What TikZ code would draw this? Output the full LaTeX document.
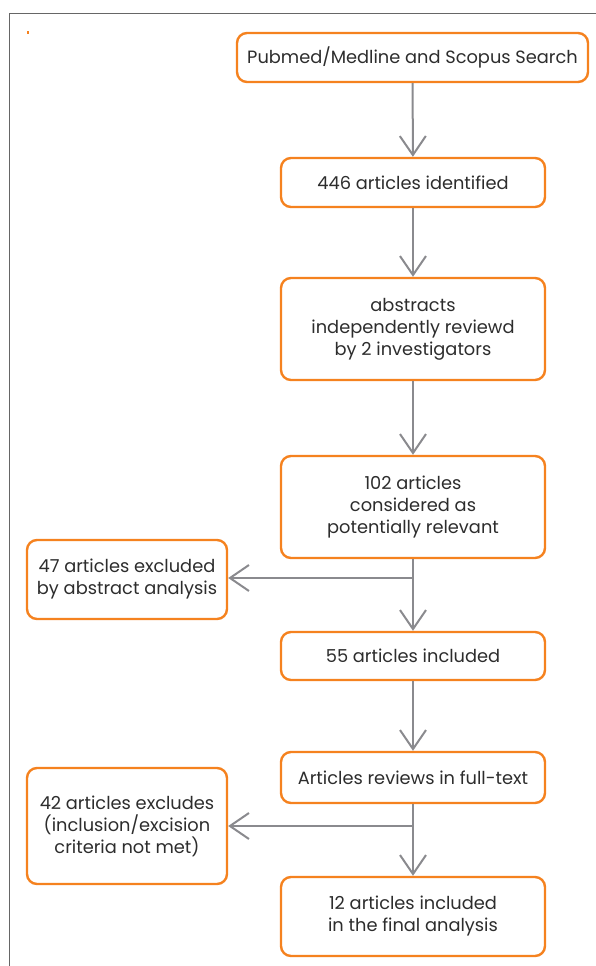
\documentclass[tikz,border=0pt]{standalone}
\usepackage{fontspec}
\setmainfont{Poppins}
\usetikzlibrary{arrows.meta}
\definecolor{orbox}{HTML}{F5821F}
\definecolor{grline}{HTML}{8A8A8E}
\definecolor{txt}{HTML}{2D2D2D}
\tikzset{
  box/.style={draw=orbox, line width=2.4pt, rounded corners=10pt, fill=white, text=txt,
    align=center, font=\fontsize{17.8}{22}\selectfont, inner sep=0pt},
  conn/.style={draw=grline, line width=2pt, -{Straight Barb[length=19pt,width=26pt,line width=2pt]}},
}
\begin{document}
\begin{tikzpicture}[x=1pt,y=-1pt]
\useasboundingbox (0,0) rectangle (595,966);
\draw[line width=1.3pt, draw=gray!80!black] (9.5,975) -- (9.5,13.5) -- (605,13.5);
\fill[orbox] (26.5,31) rectangle (28.5,34);
\node[box, minimum width=351pt, minimum height=49pt] (s) at (412.5,57.5) {Pubmed/Medline and Scopus Search};
\node[box, minimum width=264pt, minimum height=49pt] (a) at (413,182.5) {446 articles identified};
\node[box, minimum width=264pt, minimum height=102pt] (b) at (413,329) {abstracts\\independently reviewd\\by 2 investigators};
\node[box, minimum width=264pt, minimum height=102pt] (c) at (413,507) {102 articles\\considered as\\potentially relevant};
\node[box, minimum width=200pt, minimum height=79pt] (e1) at (127,579.5) {47 articles excluded\\by abstract analysis};
\node[box, minimum width=264pt, minimum height=48pt] (d) at (413,656) {55 articles included};
\node[box, minimum width=264pt, minimum height=51pt] (f) at (413,777.5) {Articles reviews in full-text};
\node[box, minimum width=200pt, minimum height=116pt] (e2) at (127,826) {42 articles excludes\\(inclusion/excision\\criteria not met)};
\node[box, minimum width=264pt, minimum height=79pt] (g) at (413,916.5) {12 articles included\\in the final analysis};
\coordinate (j1) at (413,578);
\coordinate (j2) at (413,826);
\draw[conn] (s) -- (a);
\draw[conn] (a) -- (b);
\draw[conn] (b) -- (c);
\draw[conn] (c) -- (d);
\draw[conn] (j1) -- (e1.east |- j1);
\draw[conn] (d) -- (f);
\draw[conn] (f) -- (g);
\draw[conn] (j2) -- (e2.east |- j2);
\end{tikzpicture}
\end{document}
